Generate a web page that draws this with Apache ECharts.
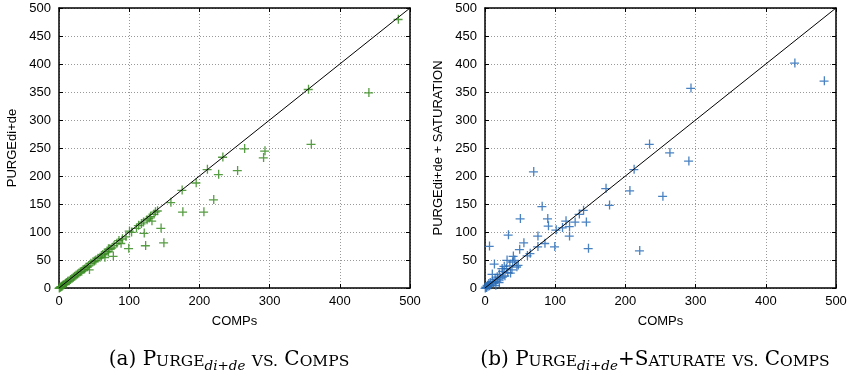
<!DOCTYPE html>
<html>
<head>
<meta charset="utf-8">
<script src="https://cdn.jsdelivr.net/npm/echarts@6/dist/echarts.min.js"></script>
<style>
html,body{margin:0;padding:0;background:#fff;}
#c{width:854px;height:374px;}
</style>
</head>
<body>
<div id="c"></div>
<script>
// ---- data ----
const xTickValues = [0, 100, 200, 300, 400, 500];
const yTickValues = [0, 50, 100, 150, 200, 250, 300, 350, 400, 450, 500];
const diagX = [0, 500];
const diagY = [0, 500];

// (a) PURGE di+de vs COMPs
const compsA = [483,355,441,359,264,293,291,233,211,227,254,220,206,195,175,176,159,145,149,123,121,99,77,
  140,135,130,125,120,117,132,128,100,103,95,90,85,82,78,75,72,70,68,65,62,60,58,55,52,50,48,45,42,40,38,36,34,32,30,28,26,24,22,20,18,16,14,12,10,9,8,6,5,4,3,2,1,0,43,65,88,110,70,113,137];
const purgeA = [480,355,349,257,249,245,233,234,212,203,210,158,136,188,175,136,153,107,81,76,98,71,57,
  138,132,128,122,118,115,120,125,102,100,92,88,85,80,76,72,70,65,66,62,60,58,55,53,50,48,47,44,40,38,37,34,33,30,29,27,25,23,21,19,17,15,13,12,10,8,7,6,5,3,3,2,1,0,33,55,80,107,70,112,136];

// (b) PURGE di+de + SATURATION vs COMPs
const compsB = [441,483,293,234,263,290,253,220,212,206,172,177,144,147,140,134,128,120,120,101,99,89,90,81,69,75,75,64,50,49,55,40,33,39,47,31,13,6,24,36,10,27,
  0,1,2,3,4,5,6,7,8,10,12,14,15,17,18,20,22,25,28,30,32,35,38,42,45,20,15,25,60,85,110,115];
const purgeSatB = [402,370,357,257,242,227,164,67,212,174,178,148,118,71,139,132,118,110,93,104,74,124,111,146,208,93,74,62,124,69,81,57,95,47,41,50,43,75,35,27,25,39,
  0,2,1,5,3,8,4,10,6,12,9,16,12,20,15,25,18,30,22,35,28,40,33,50,38,10,5,20,58,80,108,120];

// ---- build ----
const pairs = (xs, ys) => xs.map((v, i) => [v, ys[i]]);
const plusPath = 'path://M0,4.15H9V5.45H0Z M4.15,0H5.45V9H4.15Z';
const FONT = 'Liberation Sans';
const FS = 13;

function xAxisDef(grid, pos, show) {
  return {
    type: 'value', gridIndex: grid, position: pos, min: xTickValues[0], max: xTickValues[xTickValues.length - 1],
    interval: xTickValues[1] - xTickValues[0],
    name: show ? 'COMPs' : '', nameLocation: 'middle', nameGap: 27,
    nameTextStyle: { fontFamily: FONT, fontSize: FS, color: '#000' },
    axisLine: { show: true, onZero: false, lineStyle: { color: '#000', width: 1.5 } },
    axisTick: { show: true, inside: true, length: 4, lineStyle: { color: '#000', width: 1 } },
    axisLabel: { show: show, margin: 7, fontFamily: FONT, fontSize: FS, color: '#000' },
    splitLine: { show: show, lineStyle: { color: '#999', type: [1, 2], width: 1 } }
  };
}
function yAxisDef(grid, pos, show, name, gap) {
  return {
    type: 'value', gridIndex: grid, position: pos, min: yTickValues[0], max: yTickValues[yTickValues.length - 1],
    interval: yTickValues[1] - yTickValues[0],
    name: show ? name : '', nameLocation: 'middle', nameGap: gap,
    nameTextStyle: { fontFamily: FONT, fontSize: FS, color: '#000' },
    axisLine: { show: true, onZero: false, lineStyle: { color: '#000', width: 1.5 } },
    axisTick: { show: true, inside: true, length: 4, lineStyle: { color: '#000', width: 1 } },
    axisLabel: { show: show, margin: 8, fontFamily: FONT, fontSize: FS, color: '#000' },
    splitLine: { show: show, lineStyle: { color: '#999', type: [1, 2], width: 1 } }
  };
}

const SERIF = 'DejaVu Serif';
const capRich = {
  b: { fontFamily: SERIF, fontSize: 20, fontWeight: 'normal', color: '#000', verticalAlign: 'bottom', lineHeight: 20, padding: [0, 0, 3, 0] },
  s: { fontFamily: SERIF, fontSize: 15.5, fontWeight: 'normal', color: '#000', verticalAlign: 'bottom', lineHeight: 15.5, padding: [0, 0, 3, 0] },
  sub: { fontFamily: SERIF, fontSize: 13.5, fontWeight: 'normal', fontStyle: 'italic', color: '#000', verticalAlign: 'bottom', lineHeight: 13.5 }
};

const option = {
  animation: false,
  backgroundColor: '#fff',
  grid: [
    { left: 59, top: 8, width: 351, height: 280 },
    { left: 485, top: 8, width: 351, height: 280 }
  ],
  xAxis: [xAxisDef(0, 'bottom', true), xAxisDef(0, 'top', false), xAxisDef(1, 'bottom', true), xAxisDef(1, 'top', false)],
  yAxis: [yAxisDef(0, 'left', true, 'PURGEdi+de', 40), yAxisDef(0, 'right', false, '', 0),
          yAxisDef(1, 'left', true, 'PURGEdi+de + SATURATION', 40), yAxisDef(1, 'right', false, '', 0)],
  title: [
    { text: '{b|(a) P}{s|URGE}{sub|di+de}{b| }{s|VS.}{b| C}{s|OMPS}', left: 224, top: 348, textAlign: 'center',
      textStyle: { fontWeight: 'normal', rich: capRich } },
    { text: '{b|(b) P}{s|URGE}{sub|di+de}{b|+S}{s|ATURATE}{b| }{s|VS.}{b| C}{s|OMPS}', left: 650, top: 348, textAlign: 'center',
      textStyle: { fontWeight: 'normal', rich: capRich } }
  ],
  series: [
    { type: 'line', xAxisIndex: 0, yAxisIndex: 0, data: pairs(diagX, diagY), symbol: 'none',
      lineStyle: { color: '#000', width: 1 }, z: 3, silent: true },
    { type: 'scatter', xAxisIndex: 0, yAxisIndex: 0, data: pairs(compsA, purgeA), symbol: plusPath, symbolSize: 9,
      itemStyle: { color: '#3a8c22', opacity: 0.85 }, z: 2 },
    { type: 'line', xAxisIndex: 2, yAxisIndex: 2, data: pairs(diagX, diagY), symbol: 'none',
      lineStyle: { color: '#000', width: 1 }, z: 3, silent: true },
    { type: 'scatter', xAxisIndex: 2, yAxisIndex: 2, data: pairs(compsB, purgeSatB), symbol: plusPath, symbolSize: 9,
      itemStyle: { color: '#2a6cb6', opacity: 0.85 }, z: 2 }
  ]
};
const chart = echarts.init(document.getElementById('c'), null, { renderer: 'canvas' });
chart.setOption(option);
</script>
</body>
</html>
